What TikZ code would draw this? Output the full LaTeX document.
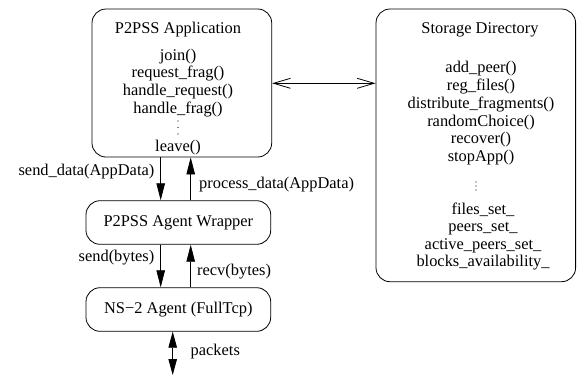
\documentclass[tikz,border=0pt]{standalone}
\usepackage{fontspec}
\setmainfont{Liberation Serif}
\usetikzlibrary{arrows.meta}
\begin{document}
\begin{tikzpicture}[x=1pt,y=-1pt,
  box/.style={draw,line width=0.8pt,rounded corners=14pt,inner sep=0pt},
  txt/.style={font=\fontsize{16.4}{18}\selectfont,inner sep=0pt,anchor=base},
  lab/.style={font=\fontsize{16.4}{18}\selectfont,inner sep=0pt},
  conn/.style={line width=0.8pt},
  farrow/.style={-{Triangle[length=17pt,width=8.5pt]}},
  dotty/.style={circle,fill,inner sep=0pt,minimum size=1.3pt}]
\useasboundingbox (0,0) rectangle (577,375);
% boxes
\node[box,minimum width=179.7pt,minimum height=148pt] (app) at (181.85,83) {};
\node[box,minimum width=199.6pt,minimum height=272.7pt] (store) at (475.8,145.35) {};
\node[box,minimum width=184.7pt,minimum height=43.6pt,font=\fontsize{16.4}{18}\selectfont] (wrap) at (178.35,222.5) {P2PSS Agent Wrapper};
\node[box,minimum width=184.7pt,minimum height=43.6pt,font=\fontsize{16.4}{18}\selectfont] (ns) at (178.35,309.5) {NS−2 Agent (FullTcp)};
% app text
\node[txt] (apptitle) at (178,33.3) {P2PSS Application};
\foreach \t [count=\i] in {join(),request\_frag(),handle\_request(),handle\_frag()}
  \node[txt] (appl\i) at (178,{60+(\i-1)*17.7}) {\t};
\node[dotty] (ad1) at (178,121) {};
\node[dotty] (ad2) at (178,127.5) {};
\node[dotty] (ad3) at (178,134) {};
\node[txt] (appleave) at (178,151.7) {leave()};
% storage text
\node[txt] (sttitle) at (480,33.3) {Storage Directory};
\foreach \t [count=\i] in {add\_peer(),reg\_files(),distribute\_fragments(),randomChoice(),recover(),stopApp()}
  \node[txt] (stf\i) at (481,{72.7+(\i-1)*17.8}) {\t};
\node[dotty] (sd1) at (476,182) {};
\node[dotty] (sd2) at (476,186) {};
\node[dotty] (sd3) at (476,190) {};
\foreach \t [count=\i] in {files\_set\_,peers\_set\_,active\_peers\_set\_,blocks\_availability\_}
  \node[txt] (stv\i) at (483,{214.5+(\i-1)*17.4}) {\t};
% connectors
\draw[conn,farrow] (160.7,0 |- app.south) -- (160.7,0 |- wrap.north);
\draw[conn,farrow] (190.7,0 |- wrap.north) -- (190.7,0 |- app.south);
\draw[conn,farrow] (160.7,0 |- wrap.south) -- (160.7,0 |- ns.north);
\draw[conn,farrow] (190.7,0 |- ns.north) -- (190.7,0 |- wrap.south);
\coordinate (net) at (172.7,375);
\draw[conn,{Triangle[length=16pt,width=8.5pt]}-{Triangle[length=16pt,width=8.5pt]}] (172.7,0 |- ns.south) -- (net);
\draw[conn,{Straight Barb[length=17pt,width=10pt]}-{Straight Barb[length=17pt,width=10pt]}] (app.east |- 0,83.3) -- (store.west |- 0,83.3);
% labels
\node[lab,anchor=east] (l1) at (154.5,172) {send\_data(AppData)};
\node[lab,anchor=west] (l2) at (199,185) {process\_data(AppData)};
\node[lab,anchor=east] (l3) at (154.5,258) {send(bytes)};
\node[lab,anchor=west] (l4) at (197,271.5) {recv(bytes)};
\node[lab,anchor=west] (l5) at (190.5,351.5) {packets};
\end{tikzpicture}
\end{document}
